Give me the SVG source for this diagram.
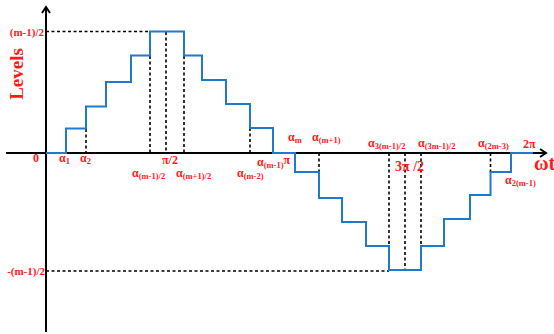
<svg xmlns="http://www.w3.org/2000/svg" width="554" height="334" viewBox="0 0 554 334">
<style>
.ax{stroke:#000;stroke-width:2;fill:none}
.wave{stroke:#1f7acb;stroke-width:2;fill:none}
.dash{stroke:#000;stroke-width:1.6;stroke-dasharray:3 2.5;fill:none}
text{font-family:"Liberation Serif","Times New Roman",serif;font-weight:bold;fill:#ff1a1a}
.l{font-size:12px}
.s{font-size:8.5px}
</style>
<rect width="554" height="334" fill="#fff"/>
<g id="axes">
<line class="ax" x1="46" y1="332" x2="46" y2="7"/>
<polyline class="ax" points="42,13 46,7 50,13"/>
<line class="ax" x1="6" y1="153" x2="546" y2="153"/>
<polyline class="ax" points="540,149 546,153 540,157"/>
</g>
<g id="connectors">
<polyline class="dash" points="46,31.5 150,31.5"/>
<polyline class="dash" points="46,271 389,271"/>
<line class="dash" x1="86" y1="129" x2="86" y2="153"/>
<line class="dash" x1="150" y1="56" x2="150" y2="153"/>
<line class="dash" x1="166" y1="32" x2="166" y2="153"/>
<line class="dash" x1="184" y1="56" x2="184" y2="153"/>
<line class="dash" x1="250" y1="128" x2="250" y2="153"/>
<line class="dash" x1="319" y1="153" x2="319" y2="172"/>
<line class="dash" x1="389" y1="153" x2="389" y2="246"/>
<line class="dash" x1="405" y1="153" x2="405" y2="270"/>
<line class="dash" x1="421" y1="153" x2="421" y2="246"/>
<line class="dash" x1="490.5" y1="153" x2="490.5" y2="172"/>
</g>
<g id="waveform">
<polyline class="wave" points="46,153 66,153 66,128.5 86,128.5 86,106.5 106,106.5 106,82 131,82 131,55.5 150,55.5 150,31.5 184,31.5 184,55.5 202,55.5 202,80 226,80 226,104 250,104 250,128 273,128 273,153 295,153 295,172 319,172 319,198 342,198 342,222 366,222 366,246 389,246 389,270 421,270 421,246 444,246 444,219 470,219 470,195 490.5,195 490.5,172 511,172 511,153 533,153"/>
</g>
<g id="labels">
<text x="18.5" y="74" text-anchor="middle" transform="rotate(-90 18.5 74)" dominant-baseline="middle" style="font-size:19px">Levels</text>
<text x="44" y="36" text-anchor="end" style="font-size:11px">(m-1)/2</text>
<text x="45" y="275" text-anchor="end" style="font-size:11px">-(m-1)/2</text>
<text class="l" x="33" y="162">0</text>
<text class="l" x="59" y="162">α<tspan class="s" dy="2">1</tspan></text>
<text class="l" x="80" y="162">α<tspan class="s" dy="2">2</tspan></text>
<text class="l" x="162" y="164">π/2</text>
<text class="l" x="132" y="177">α<tspan class="s" dy="2">(m-1)/2</tspan></text>
<text class="l" x="176" y="177">α<tspan class="s" dy="2">(m+1)/2</tspan></text>
<text class="l" x="237" y="177">α<tspan class="s" dy="2">(m-2)</tspan></text>
<text class="l" x="257" y="166">α<tspan class="s" dy="2">(m-1)</tspan><tspan dy="-4">π</tspan></text>
<text class="l" x="288" y="141">α<tspan class="s" dy="2">m</tspan></text>
<text class="l" x="312" y="141">α<tspan class="s" dy="2">(m+1)</tspan></text>
<text class="l" x="368" y="147">α<tspan class="s" dy="2">3(m-1)/2</tspan></text>
<text class="l" x="418" y="147">α<tspan class="s" dy="2">(3m-1)/2</tspan></text>
<text class="l" x="478" y="147">α<tspan class="s" dy="2">(2m-3)</tspan></text>
<text class="l" x="523" y="148">2π</text>
<text x="395" y="171" style="font-size:14px">3π /2</text>
<text x="534" y="170" style="font-size:20px">ωt</text>
<text class="l" x="505" y="184">α<tspan class="s" dy="2">2(m-1)</tspan></text>
</g>
</svg>
